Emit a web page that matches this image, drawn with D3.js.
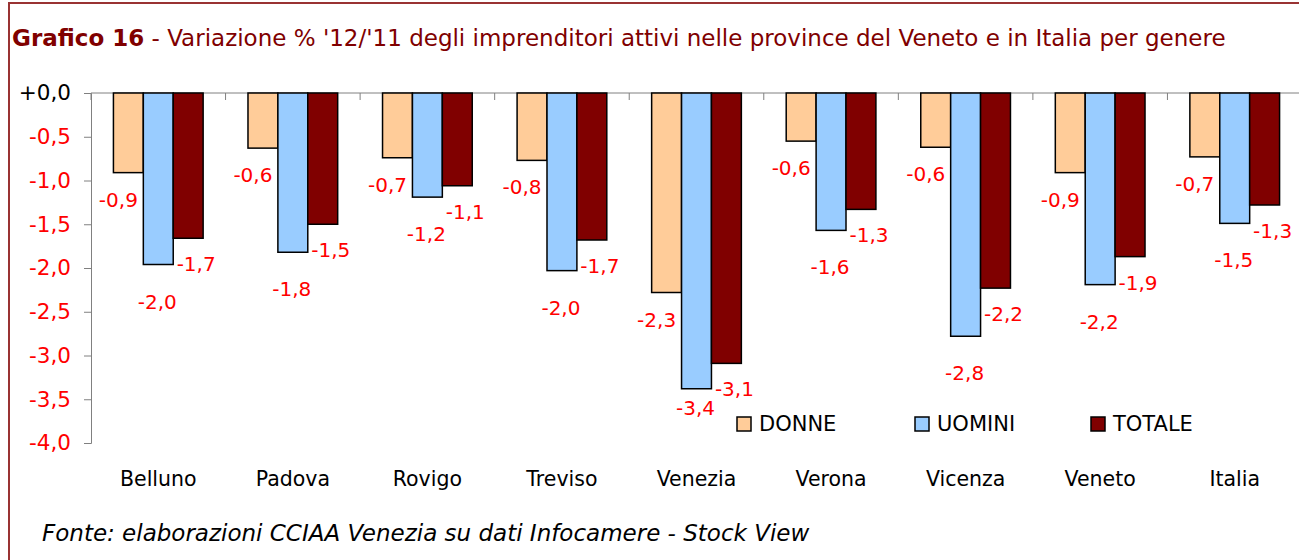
<!DOCTYPE html>
<html>
<head>
<meta charset="utf-8">
<script src="https://cdn.jsdelivr.net/npm/d3@7"></script>
<style>
  body { margin: 0; background: #fff; }
  svg { display: block; font-family: "DejaVu Sans", sans-serif; }
</style>
</head>
<body>
<div id="chart"></div>
<script>
// provinces + totals
var categories = ["Belluno", "Padova", "Rovigo", "Treviso", "Venezia", "Verona", "Vicenza", "Veneto", "Italia"];
var seriesNames = ["DONNE", "UOMINI", "TOTALE"];
var donne  = [-0.91, -0.63, -0.74, -0.77, -2.28, -0.55, -0.62, -0.91, -0.73];
var uomini = [-1.96, -1.82, -1.19, -2.03, -3.38, -1.57, -2.78, -2.19, -1.49];
var totale = [-1.66, -1.50, -1.06, -1.68, -3.09, -1.33, -2.23, -1.87, -1.28];
var yTicks = [0, -0.5, -1, -1.5, -2, -2.5, -3, -3.5, -4];

var width = 1299, height = 560;
var colors = { DONNE: "#ffcc99", UOMINI: "#99ccff", TOTALE: "#800000" };
// label offsets from the bar end, per series
var labelOffset = { DONNE: [-10, 27], UOMINI: [-1, 37], TOTALE: [8, 26] };
var labelMaxY = 408; // keep labels above the legend row

var svg = d3.select("#chart")
    .append("svg")
    .attr("width", width)
    .attr("height", height);

// frame
svg.append("path")
    .attr("d", "M9,560 V3 H1299")
    .attr("fill", "none")
    .attr("stroke", "#993333")
    .attr("stroke-width", 2);

// title
var title = svg.append("text")
    .attr("x", 12)
    .attr("y", 46)
    .style("font-size", "23px")
    .style("fill", "#800000");
title.append("tspan").style("font-weight", "bold").text("Grafico 16");
title.append("tspan").text(" - Variazione % '12/'11 degli imprenditori attivi nelle province del Veneto e in Italia per genere");

var x0 = d3.scaleBand()
    .domain(categories)
    .range([91, 1302]);

var x1 = d3.scaleBand()
    .domain(seriesNames)
    .range([0, x0.bandwidth()])
    .paddingOuter(0.75);

var y = d3.scaleLinear()
    .domain([-4, 0])
    .range([443, 93]);

// y axis
var yAxis = svg.append("g")
    .attr("transform", "translate(91,0)")
    .call(d3.axisLeft(y).tickValues(yTicks).tickSize(7).tickPadding(13)
        .tickFormat(function (d) { return d === 0 ? "+0,0" : d.toFixed(1).replace(".", ","); }));
yAxis.select(".domain").attr("stroke", "#808080");
yAxis.selectAll(".tick line").attr("stroke", "#808080");
yAxis.selectAll(".tick text")
    .style("font-size", "21.5px")
    .style("font-family", "DejaVu Sans, sans-serif")
    .attr("fill", function (d) { return d === 0 ? "#000" : "#ff0000"; });

// x axis at zero, ticks between groups pointing down
svg.append("line")
    .attr("x1", 91).attr("x2", width)
    .attr("y1", y(0)).attr("y2", y(0))
    .attr("stroke", "#808080");
var bounds = categories.map(function (c) { return x0(c); }).concat([x0(categories[categories.length - 1]) + x0.bandwidth()]);
svg.selectAll(".xtick")
    .data(bounds)
    .join("line")
    .attr("class", "xtick")
    .attr("x1", function (d) { return d; }).attr("x2", function (d) { return d; })
    .attr("y1", y(0)).attr("y2", y(0) + 7)
    .attr("stroke", "#808080");

svg.selectAll(".xlabel")
    .data(categories)
    .join("text")
    .attr("class", "xlabel")
    .attr("x", function (d) { return x0(d) + x0.bandwidth() / 2; })
    .attr("y", 486)
    .attr("text-anchor", "middle")
    .style("font-size", "20.5px")
    .text(function (d) { return d; });

// bars
var rows = [];
categories.forEach(function (c, i) {
    rows.push({ cat: c, s: "DONNE", v: donne[i] });
    rows.push({ cat: c, s: "UOMINI", v: uomini[i] });
    rows.push({ cat: c, s: "TOTALE", v: totale[i] });
});

svg.selectAll(".bar")
    .data(rows)
    .join("rect")
    .attr("class", "bar")
    .attr("x", function (d) { return x0(d.cat) + x1(d.s); })
    .attr("y", y(0))
    .attr("width", x1.bandwidth())
    .attr("height", function (d) { return y(d.v) - y(0); })
    .attr("fill", function (d) { return colors[d.s]; })
    .attr("stroke", "#000")
    .attr("stroke-width", 1.5);

svg.selectAll(".vlabel")
    .data(rows)
    .join("text")
    .attr("class", "vlabel")
    .attr("x", function (d) { return x0(d.cat) + x1(d.s) + x1.bandwidth() / 2 + labelOffset[d.s][0]; })
    .attr("y", function (d) { return Math.min(y(d.v) + labelOffset[d.s][1], labelMaxY); })
    .attr("dy", "0.35em")
    .attr("text-anchor", "middle")
    .style("font-size", "20px")
    .style("fill", "#ff0000")
    .text(function (d) { return d.v.toFixed(1).replace(".", ","); });

// legend
var legendX = [737, 915, 1091];
var legend = svg.selectAll(".legend")
    .data(seriesNames)
    .join("g")
    .attr("class", "legend")
    .attr("transform", function (d, i) { return "translate(" + legendX[i] + ",417)"; });
legend.append("rect")
    .attr("width", 14).attr("height", 14)
    .attr("fill", function (d) { return colors[d]; })
    .attr("stroke", "#000")
    .attr("stroke-width", 1.5);
legend.append("text")
    .attr("x", 22)
    .attr("y", 7)
    .attr("dy", "0.35em")
    .style("font-size", "21px")
    .text(function (d) { return d; });

// source
svg.append("text")
    .attr("x", 42)
    .attr("y", 541)
    .style("font-size", "23px")
    .style("font-style", "italic")
    .text("Fonte: elaborazioni CCIAA Venezia su dati Infocamere - Stock View");
</script>
</body>
</html>
